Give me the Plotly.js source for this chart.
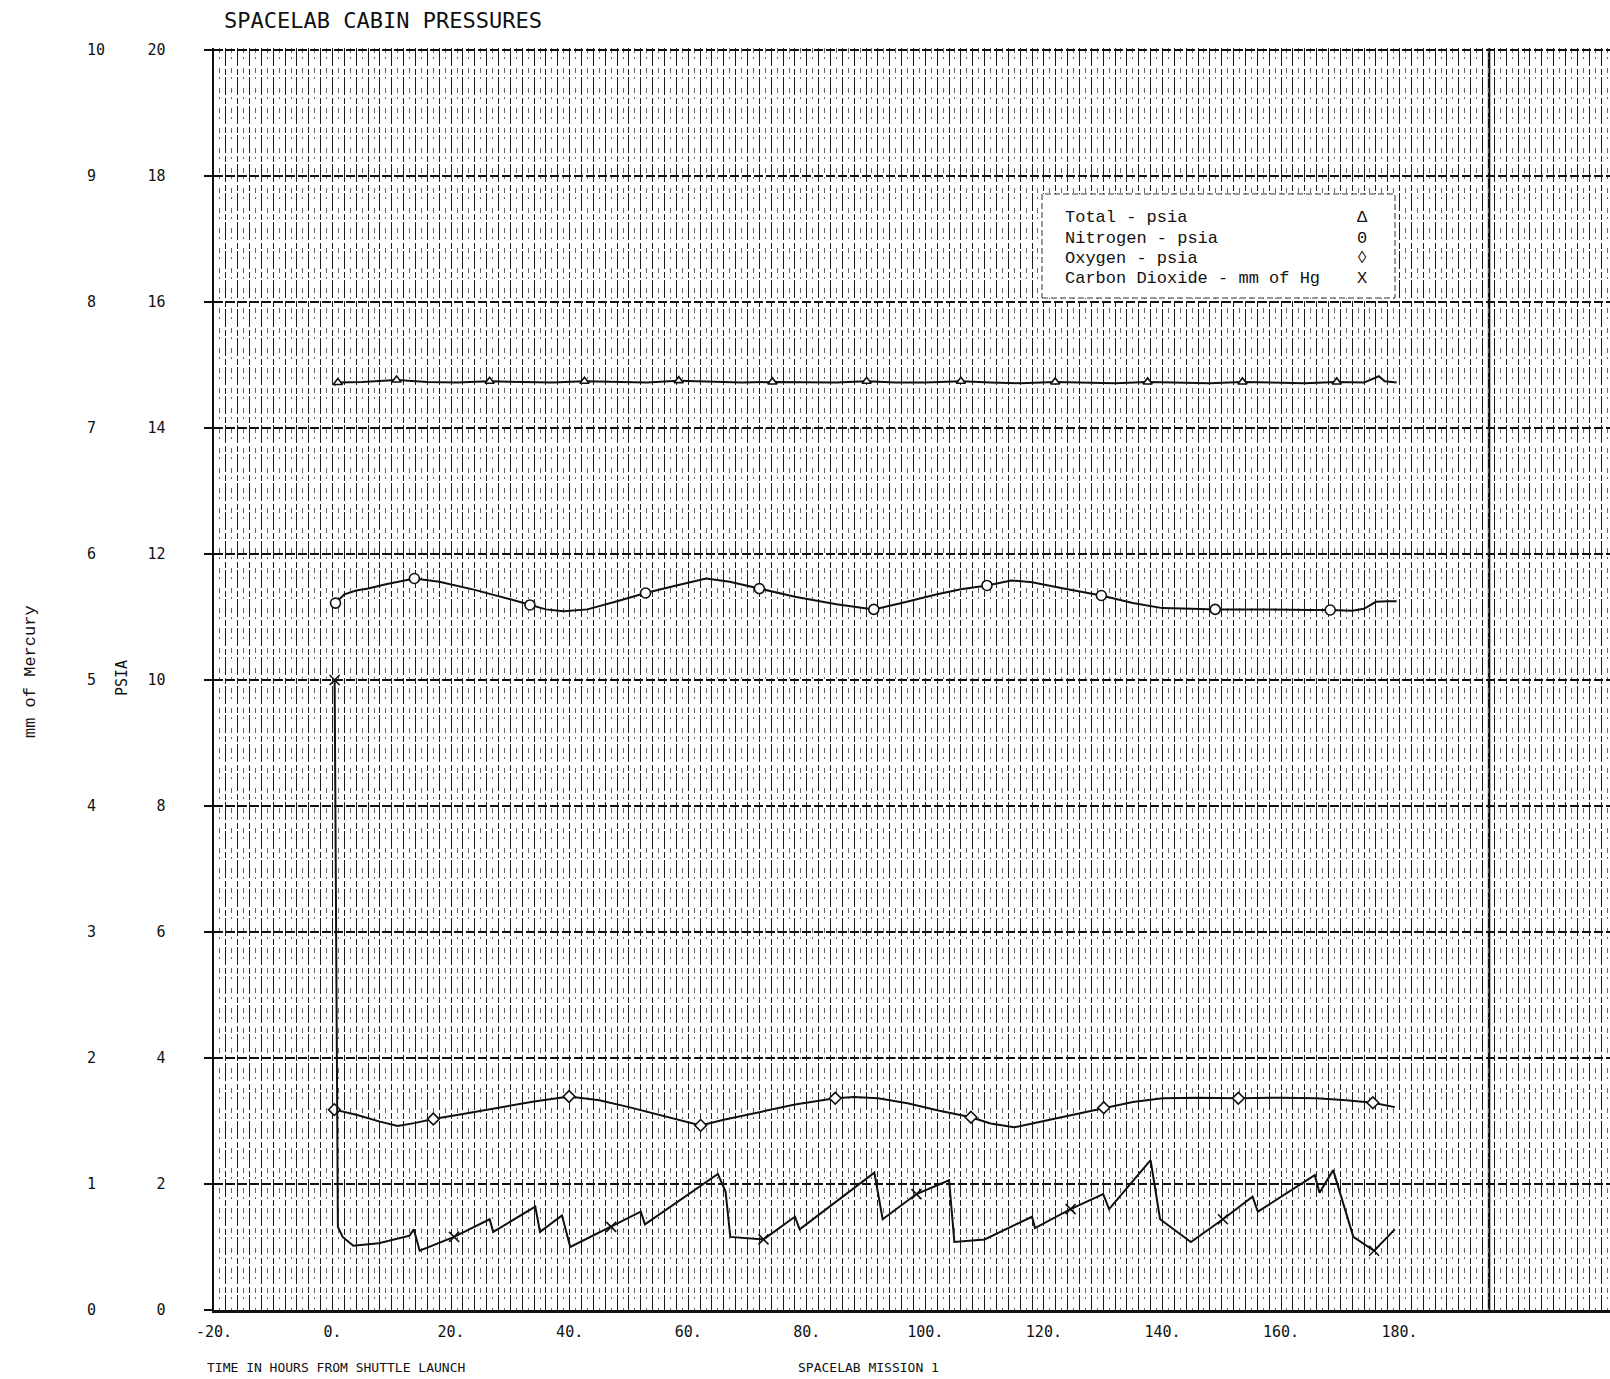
<!DOCTYPE html>
<html>
<head>
<meta charset="utf-8">
<script src="https://cdn.plot.ly/plotly-3.0.1.min.js"></script>
<style>html,body{margin:0;padding:0;background:#fff}#chart{width:1610px;height:1379px}</style>
</head>
<body>
<div id="chart"></div>
<script>
// ---------------- data ----------------
const xTickVals = [-20, 0, 20, 40, 60, 80, 100, 120, 140, 160, 180];
const xTickText = ["-20.", "0.", "20.", "40.", "60.", "80.", "100.", "120.", "140.", "160.", "180."];

const totalHours = [0.3, 0.9, 5, 10.8, 16, 21, 26.5, 32, 37, 42.5, 48, 53, 58.4, 64, 69, 74.2, 80, 85, 90.1, 95, 100, 106, 111, 116, 121.9, 127, 132, 137.5, 143, 148, 153.5, 159, 164, 169.4, 174, 176.5, 177.5, 179.5];
const totalPsia  = [14.68, 14.72, 14.73, 14.76, 14.73, 14.72, 14.74, 14.73, 14.72, 14.74, 14.73, 14.72, 14.75, 14.73, 14.72, 14.73, 14.73, 14.72, 14.74, 14.72, 14.72, 14.74, 14.72, 14.71, 14.73, 14.72, 14.71, 14.73, 14.72, 14.71, 14.73, 14.72, 14.71, 14.73, 14.72, 14.82, 14.74, 14.72];
const totalMarkHours = [0.9, 10.8, 26.5, 42.5, 58.4, 74.2, 90.1, 106, 121.9, 137.5, 153.5, 169.4];

const n2Hours = [0.5, 2, 4, 6, 9, 12, 13.8, 18, 24, 30, 33.3, 36, 39, 43, 48, 52.8, 58, 63, 67, 72, 78, 85, 91.3, 96, 102, 106, 110.4, 114.5, 118, 124, 129.7, 135, 140, 145, 148.9, 155, 160, 165, 168.3, 172, 174, 176, 178, 179.5];
const n2Psia  = [11.22, 11.36, 11.42, 11.45, 11.52, 11.58, 11.61, 11.56, 11.43, 11.28, 11.19, 11.12, 11.09, 11.12, 11.25, 11.38, 11.50, 11.61, 11.56, 11.45, 11.32, 11.20, 11.12, 11.22, 11.36, 11.44, 11.50, 11.58, 11.55, 11.44, 11.34, 11.22, 11.14, 11.13, 11.12, 11.12, 11.11, 11.11, 11.11, 11.10, 11.13, 11.24, 11.25, 11.25];
const n2MarkHours = [0.5, 13.8, 33.3, 52.8, 72, 91.3, 110.4, 129.7, 148.9, 168.3];

const o2Hours = [0.3, 4, 8, 11, 14, 17, 22, 28, 34, 39.9, 45, 50, 55, 60, 62.1, 66, 72, 78, 84.8, 88, 92, 97, 102, 107.7, 111, 115, 120, 125, 130.1, 135, 140, 146, 152.8, 160, 166, 171, 175.5, 179.2];
const o2Psia  = [3.18, 3.10, 2.99, 2.92, 2.97, 3.03, 3.11, 3.21, 3.31, 3.39, 3.33, 3.22, 3.10, 2.97, 2.93, 3.02, 3.14, 3.26, 3.36, 3.38, 3.36, 3.28, 3.17, 3.06, 2.96, 2.90, 3.00, 3.10, 3.21, 3.30, 3.36, 3.37, 3.36, 3.37, 3.36, 3.33, 3.29, 3.22];
const o2MarkHours = [0.3, 17, 39.9, 62.1, 84.8, 107.7, 130.1, 152.8, 175.5];

const co2Hours = [0.35, 0.9, 1.7, 3.5, 7.8, 13, 13.7, 14.7, 20.5, 26.5, 27.1, 34.2, 35.0, 38.7, 40.1, 47, 52, 52.7, 65, 66.3, 67.1, 72.7, 78, 78.8, 91.4, 92.8, 98.5, 104, 104.9, 110, 118, 118.5, 124.5, 130, 131, 138, 139.6, 144.8, 150.2, 155.2, 156.1, 165.7, 166.5, 168.8, 172.2, 175.7, 179.2];
const co2MmHg  = [5.0, 0.66, 0.58, 0.51, 0.53, 0.59, 0.64, 0.47, 0.58, 0.72, 0.62, 0.82, 0.62, 0.75, 0.50, 0.66, 0.78, 0.68, 1.08, 0.94, 0.58, 0.56, 0.74, 0.64, 1.09, 0.72, 0.92, 1.03, 0.54, 0.56, 0.74, 0.65, 0.80, 0.92, 0.80, 1.19, 0.72, 0.54, 0.72, 0.90, 0.78, 1.07, 0.93, 1.11, 0.58, 0.47, 0.64];
const co2MarkHours = [0.35, 20.5, 47, 72.7, 98.5, 124.5, 150.2, 175.7];

const legendLabels = ["Total - psia", "Nitrogen - psia", "Oxygen - psia", "Carbon Dioxide - mm of Hg"];
const legendSymbols = ["\u0394", "0", "\u25CA", "X"];

// ---------------- layout helpers ----------------
const W = 1610, H = 1379, MT = 48, MB = 69;
const plotBottom = H - MB, plotH = H - MT - MB;
const px = x => x / W;
const py = y => (plotBottom - y) / plotH;
const pick = (hs, vs, marks) => marks.map(m => vs[hs.indexOf(m)]);
const X_RANGE = [-20, 215.5];

const lineStyle = {color: '#111', width: 2};
function seriesTraces(hs, vs, marks, symbol, size, xaxis, yaxis) {
  return [
    {x: hs, y: vs, type: 'scatter', mode: 'lines', line: lineStyle, xaxis: xaxis, yaxis: yaxis, hoverinfo: 'skip', showlegend: false},
    {x: marks, y: pick(hs, vs, marks), type: 'scatter', mode: 'markers', xaxis: xaxis, yaxis: yaxis, showlegend: false,
     marker: {symbol: symbol, size: size, color: '#fff', line: {color: '#111', width: 1.6}}}
  ];
}

const data = [
  ...seriesTraces(totalHours, totalPsia, totalMarkHours, 'triangle-up', 8, 'x', 'y'),
  ...seriesTraces(n2Hours, n2Psia, n2MarkHours, 'circle', 10, 'x', 'y'),
  ...seriesTraces(o2Hours, o2Psia, o2MarkHours, 'diamond', 9, 'x', 'y'),
  ...seriesTraces(co2Hours, co2MmHg, co2MarkHours, 'x-thin', 10, 'x2', 'y2')
];

const monoTick = {family: 'DejaVu Sans Mono, monospace', size: 15, color: '#111'};
const typeFont = {family: 'Liberation Mono, Courier New, monospace', size: 17, color: '#111'};
const smallMono = {family: 'DejaVu Sans Mono, monospace', size: 13, color: '#111'};

const ann = (text, x, y, font, extra) => Object.assign({text: text, x: px(x), y: py(y), xref: 'paper', yref: 'paper',
  xanchor: 'center', yanchor: 'middle', showarrow: false, font: font}, extra || {});

const annotations = [
  ann('PSIA', 122, 678, monoTick, {textangle: -90}),
  ann('mm of Mercury', 30, 672, typeFont, {textangle: -90}),
  ann('TIME IN HOURS FROM SHUTTLE LAUNCH', 205, 1367, smallMono, {xanchor: 'left'}),
  ann('SPACELAB MISSION 1', 796, 1367, smallMono, {xanchor: 'left'})
];
legendLabels.forEach((t, i) => {
  annotations.push(ann(t, 1063, 218 + i * 20.3, typeFont, {xanchor: 'left'}));
  annotations.push(ann(legendSymbols[i], 1362, 218 + i * 20.3, typeFont));
});

const shapes = [
  {type: 'rect', xref: 'paper', yref: 'paper', x0: px(1042), x1: px(1395), y0: py(298), y1: py(194),
   fillcolor: '#fff', line: {width: 1, color: '#333', dash: '6px,3px'}, layer: 'above'},
  {type: 'line', xref: 'x', yref: 'paper', x0: 195.1, x1: 195.1, y0: 0, y1: 1,
   line: {color: '#111', width: 2.5}, layer: 'between'}
];

const layout = {
  width: W, height: H,
  margin: {l: 0, r: 0, t: MT, b: MB, pad: 0},
  paper_bgcolor: '#fff', plot_bgcolor: '#fff',
  showlegend: false,
  title: {text: 'SPACELAB CABIN PRESSURES', x: px(224), xanchor: 'left', xref: 'container', y: 1 - 20 / H, yanchor: 'middle',
          font: {family: 'DejaVu Sans Mono, monospace', size: 22, color: '#111'}},
  xaxis: {domain: [px(214), 1], range: X_RANGE, tickmode: 'array', tickvals: xTickVals, ticktext: xTickText,
          showgrid: false, zeroline: false, showline: true, linecolor: '#111', linewidth: 3, ticks: '',
          tickfont: monoTick, ticklabelstandoff: 6},
  xaxis2: {overlaying: 'x', anchor: 'y', domain: [px(214), 1], range: X_RANGE, showticklabels: false, ticks: '', zeroline: false,
           showline: false, tickmode: 'linear', tick0: 0, dtick: 2, showgrid: true, gridcolor: '#1a1a1a', gridwidth: 1, griddash: '18px,3px,6px,2px',
           minor: {tickmode: 'linear', tick0: 1, dtick: 2, showgrid: true, gridcolor: '#666', gridwidth: 1, griddash: '5px,4px,2px,9px'}},
  yaxis: {range: [0, 20.03], tickmode: 'linear', tick0: 0, dtick: 2, showgrid: true, gridcolor: '#111', gridwidth: 1.4,
          griddash: '9px,3px', zeroline: false, showline: true, linecolor: '#111', linewidth: 2.5,
          ticks: 'outside', ticklen: 8, tickwidth: 2, tickcolor: '#111', tickfont: monoTick, ticklabelstandoff: 35},
  yaxis2: {range: [0, 10.015], overlaying: 'y', anchor: 'free', position: px(86), side: 'right', tickmode: 'linear', tick0: 0, dtick: 1,
           showgrid: false, zeroline: false, showline: false, ticks: '', tickfont: monoTick},
  annotations: annotations,
  shapes: shapes
};

Plotly.newPlot('chart', data, layout, {displayModeBar: false, staticPlot: true});
</script>
</body>
</html>
